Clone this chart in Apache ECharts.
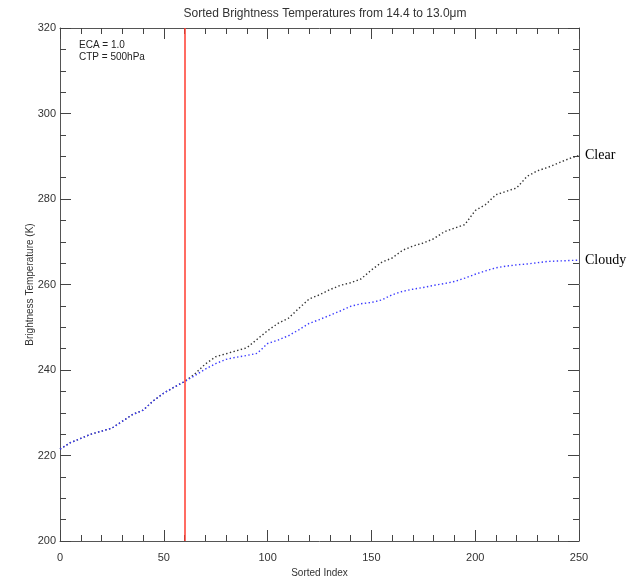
<!DOCTYPE html>
<html>
<head>
<meta charset="utf-8">
<title>Sorted Brightness Temperatures</title>
<script src="https://cdn.jsdelivr.net/npm/echarts@6/dist/echarts.min.js"></script>
<style>
  html, body { margin: 0; padding: 0; background: #fff; }
  #chart { width: 631px; height: 583px; }
</style>
</head>
<body>
<div id="chart"></div>
<script>
// sorted index positions the values were read at
const sortedIndex = [0, 5, 10, 15, 20, 25, 30, 35, 40, 45, 50, 55, 60, 65, 70, 75, 80, 85, 90, 95,
    100, 105, 110, 115, 120, 125, 130, 135, 140, 145, 150, 155, 160, 165, 170, 175, 180, 185, 190, 195,
    200, 205, 210, 215, 220, 225, 230, 235, 240, 245, 250];

// brightness temperatures (K)
const clearBT = [221.5, 223.0, 224.0, 225.0, 225.7, 226.4, 228.0, 229.6, 230.6, 232.8, 234.6, 236.0, 237.3,
    239.1, 241.4, 243.1, 243.8, 244.5, 245.2, 247.2, 249.2, 250.9, 252.1, 254.4, 256.6, 257.6, 258.8,
    259.8, 260.4, 261.3, 263.4, 265.2, 266.2, 268.0, 269.0, 269.7, 270.7, 272.3, 273.2, 274.0, 277.3,
    278.7, 281.0, 281.8, 282.6, 285.3, 286.6, 287.4, 288.4, 289.4, 290.2];
const cloudyBT = [221.5, 223.0, 224.0, 225.0, 225.7, 226.4, 228.0, 229.6, 230.6, 232.8, 234.6, 236.0, 237.3,
    238.7, 240.2, 241.5, 242.5, 243.0, 243.4, 243.9, 246.2, 247.0, 248.0, 249.4, 250.9, 251.8, 252.8,
    253.8, 254.9, 255.5, 255.8, 256.4, 257.6, 258.4, 258.9, 259.3, 259.8, 260.2, 260.7, 261.5, 262.4,
    263.2, 263.9, 264.3, 264.6, 264.8, 265.1, 265.4, 265.5, 265.6, 265.7];

const redLineIndex = 60;
const notes = ['ECA = 1.0', 'CTP = 500hPa'];

const chart = echarts.init(document.getElementById('chart'));

const axisColor = '#555';
const textFont = 'Liberation Sans';

const pairs = (ys) => sortedIndex.map((x, i) => [x, ys[i]]);

// IDL-style box: major and minor ticks all point into the plot
const tickStyle = {
    axisLine: {show: true, onZero: false, lineStyle: {color: axisColor, width: 1}},
    axisTick: {show: true, inside: true, length: 11, lineStyle: {color: '#444', width: 1}},
    splitLine: {show: false}
};
const minor = (n) => ({show: true, splitNumber: n, length: 6, lineStyle: {color: '#444', width: 1}});

const dotLine = (name, ys, color) => ({
    name: name,
    type: 'line',
    data: pairs(ys),
    showSymbol: false,
    lineStyle: {color: color, width: 1.4, type: [1.4, 2.4]},
    endLabel: {
        show: true,
        formatter: '{a}',
        fontFamily: 'Liberation Serif',
        fontSize: 14,
        color: '#000',
        distance: 6
    },
    z: 3
});

const clearSeries = dotLine('Clear', clearBT, '#333');
clearSeries.markLine = {
    silent: true,
    symbol: 'none',
    label: {show: false},
    lineStyle: {color: '#ff3b2f', type: 'solid', width: 1.5},
    data: [{xAxis: redLineIndex}]
};

chart.setOption({
    animation: false,
    title: {
        text: 'Sorted Brightness Temperatures from 14.4 to 13.0\u03bcm',
        left: 320,
        textAlign: 'center',
        top: 3,
        textStyle: {fontFamily: textFont, fontSize: 12, fontWeight: 'normal', color: '#333'}
    },
    grid: {left: 60, right: 52, top: 28, bottom: 38, show: false},
    xAxis: [
        Object.assign({
            type: 'value', min: 0, max: 250, interval: 50,
            name: 'Sorted Index', nameLocation: 'middle', nameGap: 27, nameMoveOverlap: false,
            nameTextStyle: {fontFamily: textFont, fontSize: 10, color: '#333'},
            minorTick: minor(5),
            axisLabel: {fontFamily: textFont, fontSize: 11, color: '#333', margin: 11}
        }, tickStyle),
        Object.assign({
            type: 'value', min: 0, max: 250, interval: 50, position: 'top',
            minorTick: minor(5),
            axisLabel: {show: false}
        }, tickStyle)
    ],
    yAxis: [
        Object.assign({
            type: 'value', min: 200, max: 320, interval: 20,
            name: 'Brightness Temperature (K)', nameLocation: 'middle', nameGap: 25, nameMoveOverlap: false,
            nameTextStyle: {fontFamily: textFont, fontSize: 10, color: '#333'},
            minorTick: minor(4),
            axisLabel: {fontFamily: textFont, fontSize: 11, color: '#333', margin: 4}
        }, tickStyle),
        Object.assign({
            type: 'value', min: 200, max: 320, interval: 20, position: 'right',
            minorTick: minor(4),
            axisLabel: {show: false}
        }, tickStyle)
    ],
    graphic: notes.map((t, i) => ({
        type: 'text',
        left: 79,
        top: 40 + i * 12,
        style: {text: t, fontFamily: textFont, fontSize: 10, fill: '#222'}
    })),
    series: [
        clearSeries,
        dotLine('Cloudy', cloudyBT, '#3a3aff')
    ]
});
</script>
</body>
</html>
